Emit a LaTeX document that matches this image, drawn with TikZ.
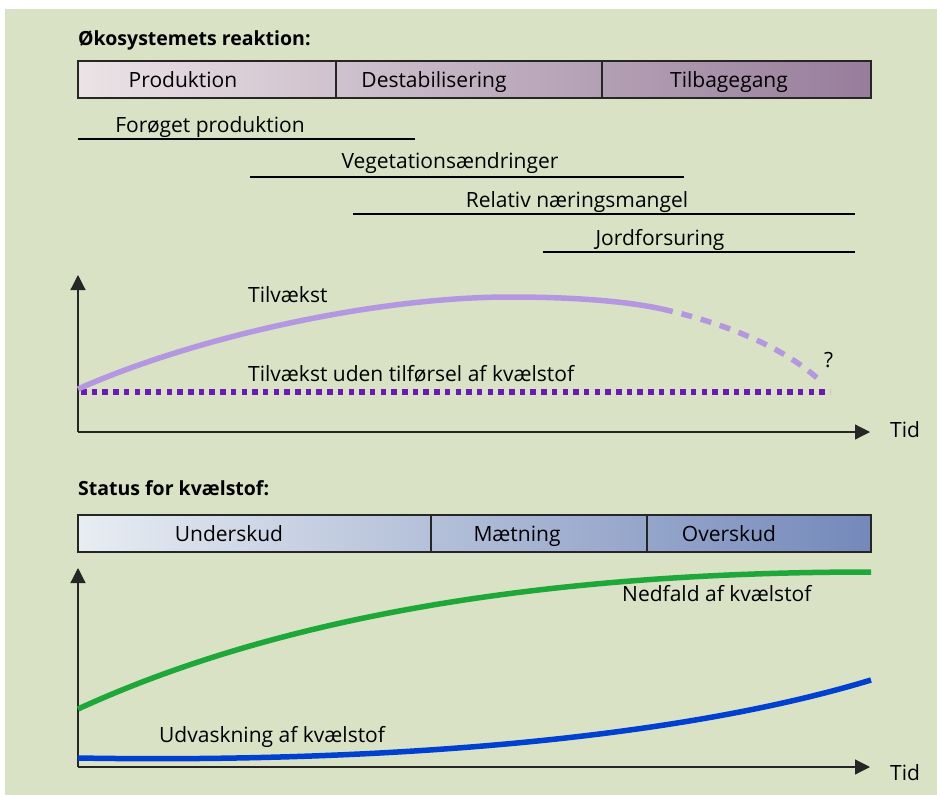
\documentclass[tikz,border=0pt]{standalone}
\usepackage{fontspec}
\setmainfont{Open Sans}
\usetikzlibrary{arrows.meta}
\definecolor{bg}{HTML}{D9E2C4}
\definecolor{pinkL}{HTML}{EBE3E6}
\definecolor{pinkR}{HTML}{977D9B}
\definecolor{blueL}{HTML}{E8EDF2}
\definecolor{blueR}{HTML}{7489BB}
\definecolor{lilac}{HTML}{B497E0}
\definecolor{violet}{HTML}{6A1AB8}
\definecolor{grn}{HTML}{1FA83A}
\definecolor{blu}{HTML}{0040D0}
\begin{document}
\begin{tikzpicture}[x=1pt,y=-1pt,
  lbl/.style={font=\fontsize{21}{23}\selectfont, inner sep=0pt, text=black, anchor=base},
  lblw/.style={lbl, anchor=base west},
  ttl/.style={font=\fontsize{19.5}{21}\selectfont\bfseries, inner sep=0pt, anchor=base west},
  bar/.style={draw=black!85, line width=1.3pt},
  rng/.style={line width=1.5pt, black},
  axis/.style={line width=1.2pt, black!85, -{Triangle[width=15pt,length=15pt]}},
  curve/.style={line width=5.5pt}]
\useasboundingbox (0,0) rectangle (937,795);
\fill[white] (0,0) rectangle (937,795);
\fill[bg] (5,9) rectangle (937,795);

% ---- top section
\node[ttl] (t1) at (78,45) {Økosystemets reaktion:};
\shade[left color=pinkL, right color=pinkR] (78,61) rectangle (871,98);
\draw[bar] (78,61) rectangle (871,98);
\draw[bar] (336,61) -- (336,98);
\draw[bar] (602,61) -- (602,98);
\node[lbl] (p1) at (183,87) {Produktion};
\node[lbl] (p2) at (434,87) {Destabilisering};
\node[lbl] (p3) at (729,87) {Tilbagegang};

\coordinate (a1) at (78,139); \coordinate (a2) at (415,139);
\draw[rng] (a1) -- (a2);
\node[lbl] (l1) at (210,132) {Forøget produktion};
\coordinate (b1) at (250,177); \coordinate (b2) at (684,177);
\draw[rng] (b1) -- (b2);
\node[lbl] (l2) at (450,168) {Vegetationsændringer};
\coordinate (c1) at (353,214); \coordinate (c2) at (855,214);
\draw[rng] (c1) -- (c2);
\node[lbl] (l3) at (577,207) {Relativ næringsmangel};
\coordinate (d1) at (543,252); \coordinate (d2) at (855,252);
\draw[rng] (d1) -- (d2);
\node[lbl] (l4) at (660,245) {Jordforsuring};

% ---- top graph
\coordinate (o1) at (78,432);
\coordinate (y1) at (78,275);
\coordinate (x1) at (870,432);
\draw[axis] (o1) -- (y1);
\draw[axis] (o1) -- (x1);
\node[lblw] (tid1) at (890,437) {Tid};

\draw[violet, line width=6pt, dash pattern=on 5.5pt off 5.2pt] (81,392) -- (830,392);
\draw[lilac, curve] (78,389) .. controls (200,335) and (380,297) .. (510,297)
  .. controls (580,297) and (630,302) .. (662,309);
\draw[lilac, curve, dash pattern=on 11pt off 9pt] (662,309) .. controls (720,322) and (780,345) .. (817,378);
\node[lblw] (tv) at (248,302.5) {Tilvækst};
\node[lblw] (tvu) at (248,381.5) {Tilvækst uden tilførsel af kvælstof};
\node[lblw] (q) at (824,367) {?};

% ---- bottom section
\node[ttl] (t2) at (78,495) {Status for kvælstof:};
\shade[left color=blueL, right color=blueR] (78,515) rectangle (871,552);
\draw[bar] (78,515) rectangle (871,552);
\draw[bar] (431,515) -- (431,552);
\draw[bar] (647,515) -- (647,552);
\node[lbl] (s1) at (229,541) {Underskud};
\node[lbl] (s2) at (517,541) {Mætning};
\node[lbl] (s3) at (729,541) {Overskud};

\coordinate (o2) at (78,767);
\coordinate (y2) at (78,568);
\coordinate (x2) at (870,767);
\draw[axis] (o2) -- (y2);
\draw[axis] (o2) -- (x2);
\node[lblw] (tid2) at (890,780) {Tid};

\draw[grn, curve] (78,709) .. controls (250,630) and (500,572) .. (871,572);
\draw[blu, curve] (78,758) .. controls (370,763) and (670,741) .. (871,680);
\node[lblw] (nf) at (622,601.5) {Nedfald af kvælstof};
\node[lblw] (ud) at (159,742.5) {Udvaskning af kvælstof};
\end{tikzpicture}
\end{document}
